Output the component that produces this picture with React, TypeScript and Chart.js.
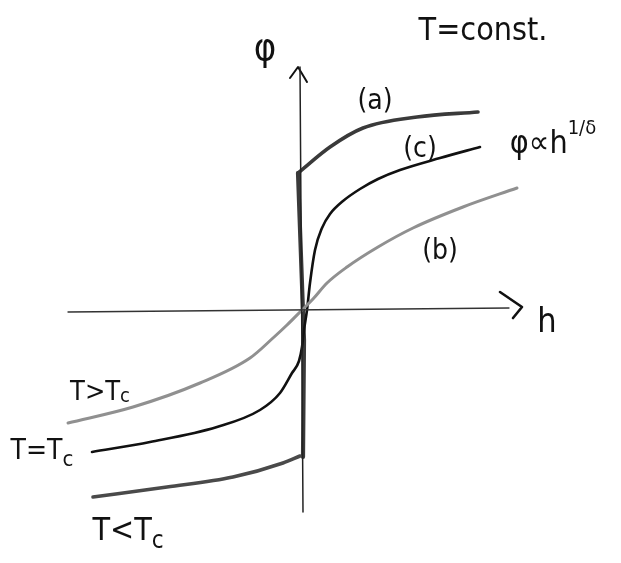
import React, { useEffect, useRef } from "react";
import { Chart, registerables } from "chart.js";

Chart.register(...registerables);

type Pt = { x: number; y: number };

// Field h (x) against order parameter φ (y), arbitrary units.
const axisH: Pt[] = [
  { x: -2.35, y: -0.01 },
  { x: 2.06, y: 0.03 },
];
const arrowH: Pt[] = [
  { x: 1.97, y: 0.19 },
  { x: 2.19, y: 0.04 },
  { x: 2.1, y: -0.07 },
];
const axisPhi: Pt[] = [
  { x: 0.0, y: -2.01 },
  { x: -0.03, y: 2.44 },
];
const arrowPhi: Pt[] = [
  { x: -0.13, y: 2.33 },
  { x: -0.05, y: 2.44 },
  { x: 0.04, y: 2.29 },
];

// (a) T < Tc: spontaneous order, jump at h = 0
const curveALeft: Pt[] = [
  { x: -2.1, y: -1.86 },
  { x: -1.36, y: -1.76 },
  { x: -0.7, y: -1.66 },
  { x: -0.2, y: -1.52 },
  { x: -0.03, y: -1.45 },
];
const curveAJump: Pt[] = [
  { x: 0.0, y: -1.46 },
  { x: 0.01, y: -0.29 },
  { x: -0.05, y: 1.38 },
];
const curveARight: Pt[] = [
  { x: -0.05, y: 1.38 },
  { x: 0.27, y: 1.64 },
  { x: 0.6, y: 1.83 },
  { x: 1.14, y: 1.94 },
  { x: 1.75, y: 1.99 },
];

// (c) T = Tc: φ ∝ h^{1/δ}
const curveC: Pt[] = [
  { x: -2.11, y: -1.41 },
  { x: -1.53, y: -1.31 },
  { x: -0.86, y: -1.16 },
  { x: -0.43, y: -0.99 },
  { x: -0.23, y: -0.82 },
  { x: -0.11, y: -0.62 },
  { x: -0.04, y: -0.5 },
  { x: -0.01, y: -0.36 },
  { x: 0.01, y: -0.19 },
  { x: 0.04, y: 0.01 },
  { x: 0.07, y: 0.28 },
  { x: 0.12, y: 0.61 },
  { x: 0.19, y: 0.83 },
  { x: 0.27, y: 0.97 },
  { x: 0.4, y: 1.1 },
  { x: 0.57, y: 1.22 },
  { x: 0.75, y: 1.32 },
  { x: 0.97, y: 1.41 },
  { x: 1.37, y: 1.53 },
  { x: 1.77, y: 1.64 },
];

// (b) T > Tc: smooth, linear response near h = 0
const curveB: Pt[] = [
  { x: -2.35, y: -1.12 },
  { x: -1.7, y: -0.96 },
  { x: -1.03, y: -0.72 },
  { x: -0.53, y: -0.47 },
  { x: -0.3, y: -0.27 },
  { x: -0.16, y: -0.14 },
  { x: 0.0, y: 0.02 },
  { x: 0.1, y: 0.12 },
  { x: 0.24, y: 0.28 },
  { x: 0.44, y: 0.44 },
  { x: 0.75, y: 0.64 },
  { x: 1.1, y: 0.83 },
  { x: 1.6, y: 1.04 },
  { x: 2.14, y: 1.23 },
];

type Part = { t: string; size: number; dy?: number };
type Note = { x: number; y: number; parts: Part[] };

const FONT = '"Liberation Sans Narrow", "DejaVu Sans Condensed", "Liberation Sans", sans-serif';

const notes: Note[] = [
  { x: -0.38, y: 2.61, parts: [{ t: "φ", size: 38 }] },
  { x: 1.8, y: 2.79, parts: [{ t: "T=const.", size: 32 }] },
  { x: 0.72, y: 2.09, parts: [{ t: "(a)", size: 28 }] },
  { x: 1.17, y: 1.61, parts: [{ t: "(c)", size: 28 }] },
  { x: 1.37, y: 0.59, parts: [{ t: "(b)", size: 28 }] },
  {
    x: 2.5,
    y: 1.66,
    parts: [
      { t: "φ∝h", size: 32 },
      { t: "1/δ", size: 20, dy: -16 },
    ],
  },
  { x: 2.44, y: -0.12, parts: [{ t: "h", size: 34 }] },
  {
    x: -2.03,
    y: -0.82,
    parts: [
      { t: "T>T", size: 27 },
      { t: "c", size: 20, dy: 4 },
    ],
  },
  {
    x: -2.61,
    y: -1.41,
    parts: [
      { t: "T=T", size: 28 },
      { t: "c", size: 22, dy: 8 },
    ],
  },
  {
    x: -1.75,
    y: -2.21,
    parts: [
      { t: "T<T", size: 32 },
      { t: "c", size: 24, dy: 10 },
    ],
  },
];

const notesPlugin = {
  id: "sketchNotes",
  afterDatasetsDraw(chart: any) {
    const ctx: CanvasRenderingContext2D = chart.ctx;
    const xs = chart.scales.x;
    const ys = chart.scales.y;
    ctx.save();
    ctx.fillStyle = "#111";
    ctx.textBaseline = "middle";
    ctx.textAlign = "left";
    for (const n of notes) {
      let total = 0;
      for (const p of n.parts) {
        ctx.font = `${p.size}px ${FONT}`;
        total += ctx.measureText(p.t).width;
      }
      let cx = xs.getPixelForValue(n.x) - total / 2;
      const cy = ys.getPixelForValue(n.y);
      for (const p of n.parts) {
        ctx.font = `${p.size}px ${FONT}`;
        ctx.fillText(p.t, cx, cy + (p.dy || 0));
        cx += ctx.measureText(p.t).width;
      }
    }
    ctx.restore();
  },
};

function line(data: Pt[], color: string, width: number, smooth = true) {
  return {
    data,
    showLine: true,
    borderColor: color,
    borderWidth: width,
    pointRadius: 0,
    tension: smooth ? 0.4 : 0,
    cubicInterpolationMode: smooth ? ("monotone" as const) : ("default" as const),
    borderCapStyle: "round" as const,
    borderJoinStyle: "round" as const,
    fill: false,
  };
}

export default function App() {
  const ref = useRef<HTMLCanvasElement | null>(null);

  useEffect(() => {
    document.body.style.margin = "0";
    if (!ref.current) return;
    const chart = new Chart(ref.current, {
      type: "scatter",
      data: {
        datasets: [
          line(axisH, "#333", 1.3, false),
          line(arrowH, "#111", 2.6, false),
          line(axisPhi, "#222", 1.5, false),
          line(arrowPhi, "#111", 2, false),
          line(curveB, "#909090", 3),
          line(curveC, "#111", 2.6),
          line(curveALeft, "#4a4a4a", 3.6),
          line(curveAJump, "#3a3a3a", 4.2, false),
          line(curveARight, "#3a3a3a", 3.6),
        ] as any,
      },
      options: {
        animation: false,
        responsive: false,
        devicePixelRatio: 1,
        layout: { padding: 0 },
        plugins: { legend: { display: false }, tooltip: { enabled: false } },
        events: [],
        scales: {
          x: { type: "linear", min: -3.03, max: 3.18, display: false },
          y: { type: "linear", min: -2.52, max: 3.11, display: false },
        },
      },
      plugins: [notesPlugin],
    });
    return () => chart.destroy();
  }, []);

  return (
    <div style={{ width: 621, height: 563, background: "#fff" }}>
      <canvas ref={ref} width={621} height={563} />
    </div>
  );
}
